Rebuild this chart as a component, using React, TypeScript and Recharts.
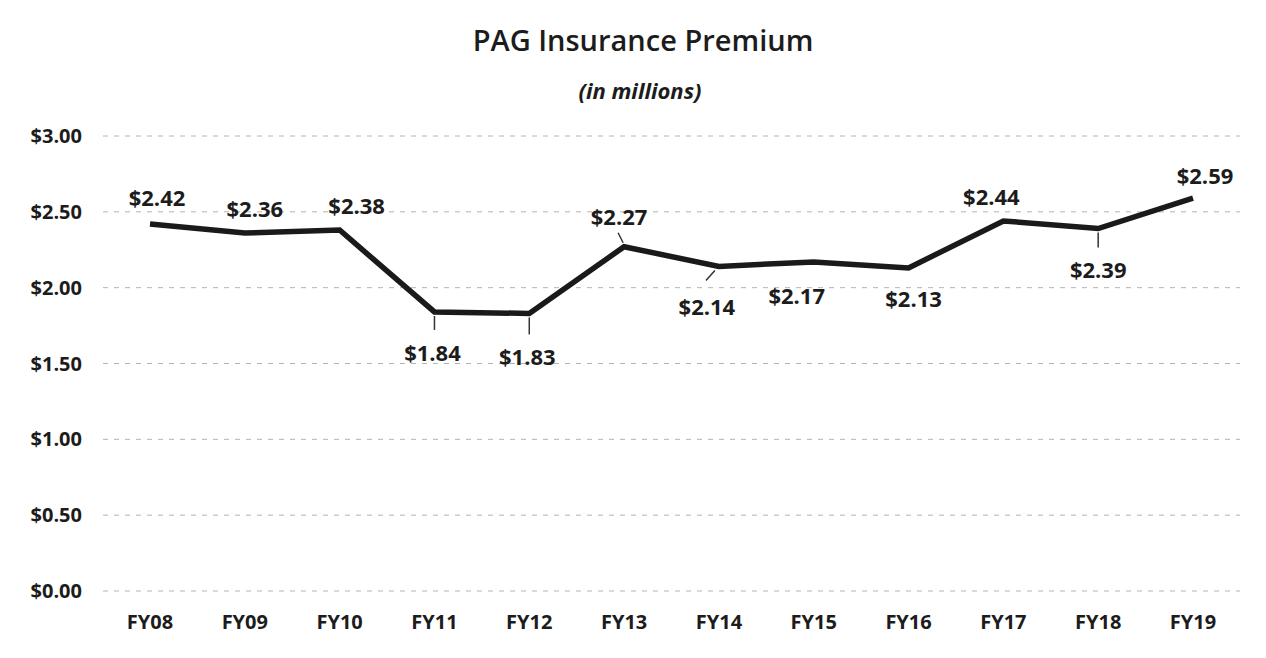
import { LineChart, Line, XAxis, YAxis, CartesianGrid } from "recharts";

const categories = ["FY08", "FY09", "FY10", "FY11", "FY12", "FY13", "FY14", "FY15", "FY16", "FY17", "FY18", "FY19"];
const premium = [2.42, 2.36, 2.38, 1.84, 1.83, 2.27, 2.14, 2.17, 2.13, 2.44, 2.39, 2.59];
const yTicks = [0, 0.5, 1, 1.5, 2, 2.5, 3];

// where each data label sits relative to its point (dx, dy)
const labelOffsets: [number, number][] = [
  [7, -27], [10, -25], [17, -25], [-2, 40], [-2, 43], [-5, -31],
  [-12, 40], [-17, 33], [5, 30], [-12, -25], [0, 40], [12, -23],
];
// short leader lines from the point toward the label
const leaders: Record<number, [number, number, number, number]> = {
  3: [0, 4, 0, 18],
  4: [0, 4, 0, 21],
  5: [-1, -4, -6, -14],
  6: [-4, 4, -13, 14],
  10: [0, 4, 0, 19],
};

const data = categories.map((fy, i) => ({ fy, premium: premium[i] }));

const font = "'Open Sans', 'Noto Sans', sans-serif";
const money = (v: number) => `$${v.toFixed(2)}`;

function PointLabel(props: any) {
  const { x, y, index, value } = props;
  const [dx, dy] = labelOffsets[index] ?? [0, -25];
  const ld = leaders[index];
  return (
    <g>
      {ld && (
        <line x1={x + ld[0]} y1={y + ld[1]} x2={x + ld[2]} y2={y + ld[3]} stroke="#333" strokeWidth={1.5} />
      )}
      <text
        x={x + dx}
        y={y + dy}
        textAnchor="middle"
        dominantBaseline="central"
        fontFamily={font}
        fontWeight={700}
        fontSize={22}
        fill="#1c1c1c"
      >
        {money(value)}
      </text>
    </g>
  );
}

export default function App() {
  return (
    <div style={{ position: "absolute", left: 0, top: 0, width: 1266, height: 658, background: "#fff", fontFamily: font }}>
      <div
        style={{
          position: "absolute",
          left: 0,
          width: 1286,
          top: 20,
          textAlign: "center",
          fontSize: 29,
          fontWeight: 600,
          color: "#1c1c1c",
        }}
      >
        PAG Insurance Premium
      </div>
      <div
        style={{
          position: "absolute",
          left: 0,
          width: 1280,
          top: 75,
          textAlign: "center",
          fontSize: 22,
          fontWeight: 700,
          fontStyle: "italic",
          color: "#1c1c1c",
        }}
      >
        (in millions)
      </div>
      <LineChart width={1266} height={658} data={data} margin={{ top: 136, right: 26, left: 0, bottom: 27 }}>
        <CartesianGrid horizontal vertical={false} stroke="#b4b4b4" strokeDasharray="5 6" />
        <XAxis
          dataKey="fy"
          axisLine={false}
          tickLine={false}
          height={40}
          padding={{ left: 47, right: 47 }}
          tickMargin={24}
          tickSize={0}
          tick={{ fontFamily: font, fontSize: 20, fontWeight: 700, fill: "#1c1c1c" }}
        />
        <YAxis
          domain={[0, 3]}
          ticks={yTicks}
          width={103}
          axisLine={false}
          tickLine={false}
          tickSize={0}
          tickMargin={21}
          tickFormatter={money}
          tick={{ fontFamily: font, fontSize: 20, fontWeight: 700, fill: "#1c1c1c" }}
        />
        <Line
          dataKey="premium"
          type="linear"
          stroke="#1a1a1a"
          strokeWidth={5.5}
          dot={false}
          activeDot={false}
          isAnimationActive={false}
          label={PointLabel}
        />
      </LineChart>
    </div>
  );
}
